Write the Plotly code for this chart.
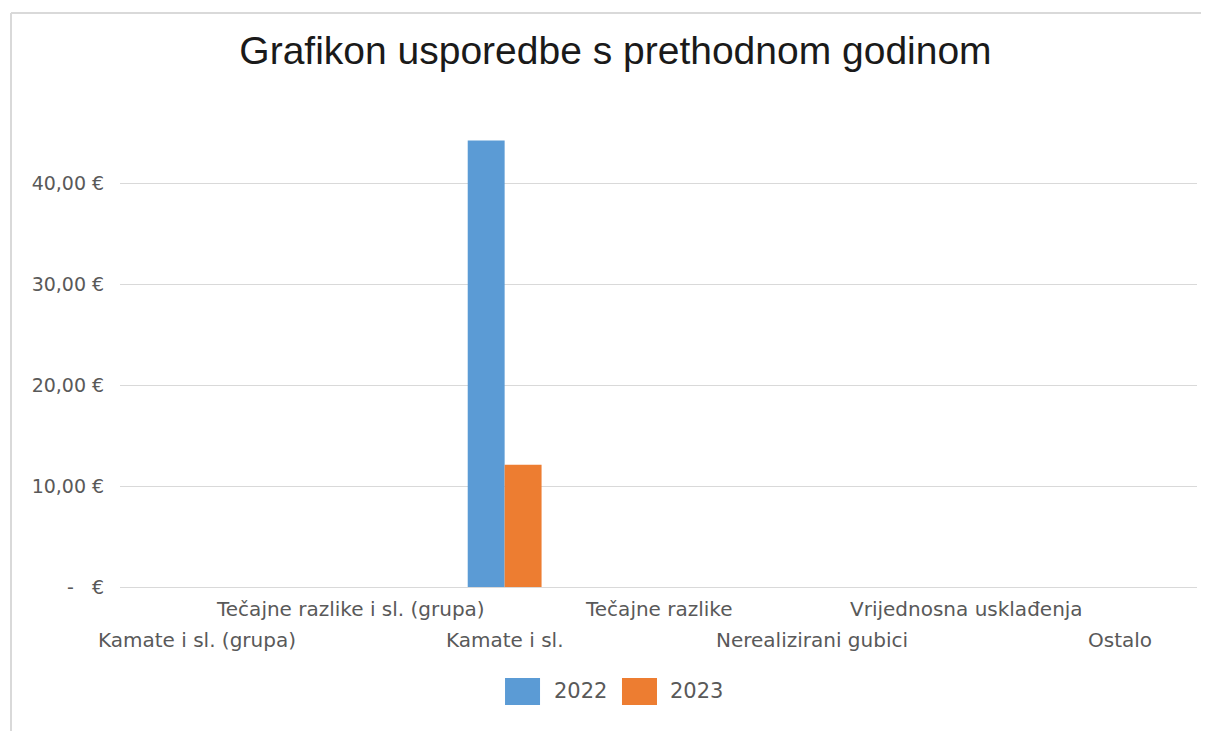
import plotly.graph_objects as go

categories = ["Kamate i sl. (grupa)", "Tečajne razlike i sl. (grupa)", "Kamate i sl.",
              "Tečajne razlike", "Nerealizirani gubici", "Vrijednosna usklađenja", "Ostalo"]
values_2022 = [0, 0, 44.2, 0, 0, 0, 0]
values_2023 = [0, 0, 12.1, 0, 0, 0, 0]
series_names = ["2022", "2023"]
y_tickvals = [0, 10, 20, 30, 40]
y_ticktext = ["-   €", "10,00 €", "20,00 €", "30,00 €", "40,00 €"]

BLUE = "#5B9BD5"
ORANGE = "#ED7D31"
GRID = "#D9D9D9"
TXT = "#595959"
FONT = "DejaVu Sans"

fig = go.Figure()
fig.add_trace(go.Bar(x=categories, y=values_2022, name=series_names[0],
                     marker=dict(color=BLUE, line=dict(width=0)), showlegend=False))
fig.add_trace(go.Bar(x=categories, y=values_2023, name=series_names[1],
                     marker=dict(color=ORANGE, line=dict(width=0)), showlegend=False))

annotations = []
for i, c in enumerate(categories):
    annotations.append(dict(x=c, xref="x", y=0, yref="paper", text=c, showarrow=False,
                            xanchor="center", yanchor="middle",
                            yshift=-22 if i % 2 == 1 else -53,
                            font=dict(family=FONT, size=20, color=TXT)))

# legend (drawn manually for large swatches)
leg = [(series_names[0], BLUE, 0.3575, 0.390, 0.4011),
       (series_names[1], ORANGE, 0.4661, 0.4986, 0.5088)]
shapes = []
for name, col, x0, x1, tx in leg:
    shapes.append(dict(type="rect", xref="paper", yref="paper", x0=x0, x1=x1,
                       y0=-0.2474, y1=-0.1908, fillcolor=col, line=dict(width=0)))
    annotations.append(dict(x=tx, xref="paper", y=-0.219, yref="paper", text=name,
                            showarrow=False, xanchor="left", yanchor="middle",
                            font=dict(family=FONT, size=21, color=TXT)))
# outer border (top and left)
shapes.append(dict(type="line", xref="paper", yref="paper", x0=-0.1012, x1=1.02,
                   y0=1.2034, y1=1.2034, line=dict(color=GRID, width=2)))
shapes.append(dict(type="line", xref="paper", yref="paper", x0=-0.1012, x1=-0.1012,
                   y0=1.2034, y1=-0.31, line=dict(color=GRID, width=2)))

fig.update_layout(
    width=1201, height=723,
    margin=dict(l=112, r=12, t=102, b=144),
    paper_bgcolor="white", plot_bgcolor="white",
    barmode="group", bargap=0.52, bargroupgap=0,
    title=dict(text="Grafikon usporedbe s prethodnom godinom", x=0.5058, xanchor="center",
               y=1 - 42 / 723, yanchor="middle", yref="container",
               font=dict(family="Liberation Sans", size=39, color="#1a1a1a")),
    xaxis=dict(range=[-0.5, len(categories) - 0.5], showticklabels=False,
               showgrid=False, showline=False, ticks=""),
    yaxis=dict(range=[0, 47.23], tickvals=y_tickvals, ticktext=y_ticktext,
               showgrid=True, gridcolor=GRID, gridwidth=1,
               zeroline=True, zerolinecolor=GRID, zerolinewidth=1,
               ticks="outside", ticklen=11, tickcolor="rgba(0,0,0,0)",
               tickfont=dict(family=FONT, size=19, color=TXT), showline=False),
    annotations=annotations, shapes=shapes,
)

fig.write_html("out.html")
